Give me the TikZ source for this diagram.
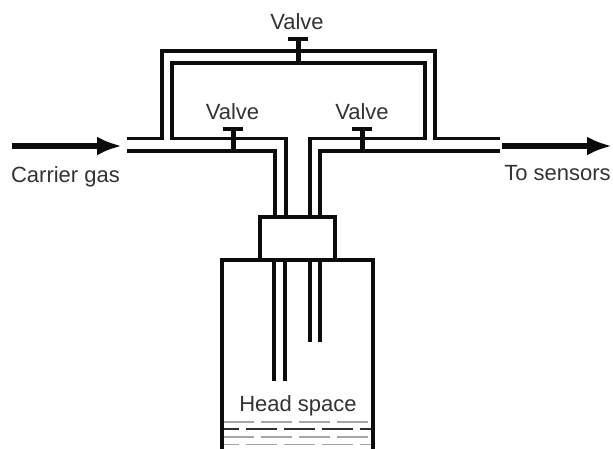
\documentclass[tikz,border=0pt]{standalone}
\usepackage{fontspec}
\setmainfont{Liberation Sans}
\usetikzlibrary{arrows.meta}
\definecolor{txt}{HTML}{333333}
\definecolor{ink}{HTML}{0C0C0C}
\tikzset{
  x=1pt,y=-1pt,
  pipe/.style={draw=ink,line width=3.3pt,line join=miter},
  stem/.style={draw=ink,line width=5pt},
  vcap/.style={draw=ink,line width=3.4pt},
  label/.style={text=txt,font=\fontsize{22}{24}\selectfont,inner sep=0pt},
  flow/.style={draw=ink,line width=5.5pt,-{Latex[length=25pt,width=19pt]}},
  liqthin/.style={draw=gray!70,line width=1.4pt,dash pattern=on 31pt off 7pt},
  liqthick/.style={draw=ink!85,line width=2pt,dash pattern=on 31pt off 7pt}
}
\begin{document}
\begin{tikzpicture}
\useasboundingbox (0,0) rectangle (613,449);
% left inlet and bypass
\draw[pipe] (127,138.5) -- (162,138.5) -- (162,51) -- (435,51) -- (435,138.5) -- (500,138.5);
\draw[pipe] (286,217) -- (286,138.5) -- (172,138.5) -- (172,63) -- (425,63) -- (425,138.5) -- (310,138.5) -- (310,217);
\draw[pipe] (127,151) -- (275,151) -- (275,217);
\draw[pipe] (500,151) -- (320,151) -- (320,217);
% cap and bottle
\draw[pipe] (260,260) -- (260,217) -- (335,217) -- (335,260);
\draw[pipe] (222,449) -- (222,260) -- (373,260) -- (373,449);
% dip tubes
\draw[pipe] (274,260) -- (274,381);
\draw[pipe] (285,260) -- (285,381);
\draw[pipe] (310,260) -- (310,342);
\draw[pipe] (320,260) -- (320,342);
% valves
\draw[stem] (298,39) -- (298,63);
\draw[vcap] (288,39) -- (308,39);
\draw[stem] (233,129) -- (233,151);
\draw[vcap] (223,129) -- (243,129);
\draw[stem] (362,129) -- (362,151);
\draw[vcap] (352,129) -- (372,129);
% liquid
\begin{scope}
\clip (224,415) rectangle (371,449);
\draw[liqthin] (223,422) -- (371,422);
\draw[liqthick,dash phase=15pt] (223,429) -- (371,429);
\draw[liqthin] (223,437) -- (371,437);
\draw[liqthin,dash phase=15pt] (223,444.5) -- (371,444.5);
\end{scope}
% flow arrows
\coordinate (inA) at (12,146);
\coordinate (inB) at (122,146);
\coordinate (outA) at (502,146);
\coordinate (outB) at (612,146);
\draw[flow] (inA) -- (inB);
\draw[flow] (outA) -- (outB);
% labels
\node[label] (vt) at (297,22) {Valve};
\node[label] (vl) at (232.5,112) {Valve};
\node[label] (vr) at (362,112) {Valve};
\node[label] (cg) at (65.5,177) {Carrier gas};
\node[label] (ts) at (557.5,173.5) {To sensors};
\node[label] (hs) at (298,406) {Head space};
\end{tikzpicture}
\end{document}
